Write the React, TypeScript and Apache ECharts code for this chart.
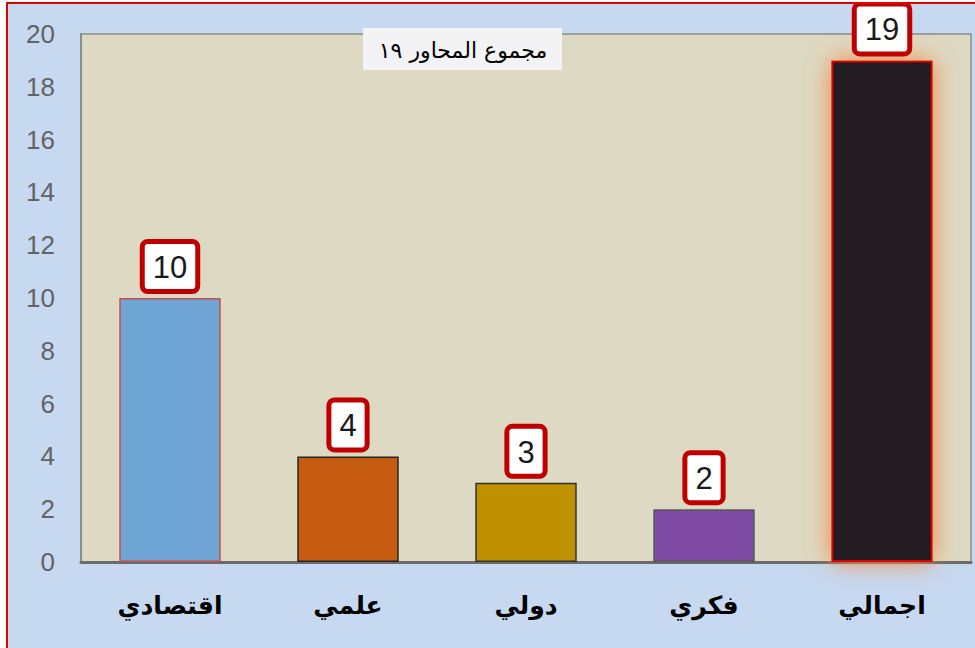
import React, { useEffect, useRef } from "react";
import * as echarts from "echarts";

const categories = ["اقتصادي", "علمي", "دولي", "فكري", "اجمالي"];
const values = [10, 4, 3, 2, 19];
const barColors = ["#6FA5D4", "#C55A11", "#BF9000", "#7F4AA3", "#231F20"];
const barBorders = ["#C0504D", "#262626", "#333333", "#595959", "#E00000"];
const titleText = "مجموع المحاور ١٩";

export default function App() {
  const ref = useRef<HTMLDivElement>(null);
  useEffect(() => {
    document.documentElement.style.overflow = "hidden";
    document.body.style.margin = "0";
    const chart = echarts.init(ref.current!, undefined, { renderer: "svg" });
    chart.setOption({
      animation: false,
      backgroundColor: "#C6D9F0",
      grid: {
        left: 73,
        top: 30,
        right: 6,
        bottom: 88,
        show: true,
        backgroundColor: "#DDD9C3",
        borderColor: "#8C8C8C",
        borderWidth: 1.5,
        containLabel: false,
      },
      xAxis: {
        type: "category",
        data: categories,
        axisLine: { show: true, lineStyle: { color: "#6B6B6B", width: 3 } },
        axisTick: { show: false },
        axisLabel: {
          color: "#000",
          fontSize: 25,
          fontWeight: "bold",
          fontFamily: "DejaVu Sans",
          margin: 31,
        },
      },
      yAxis: {
        type: "value",
        min: 0,
        max: 20,
        interval: 2,
        axisLine: { show: true, lineStyle: { color: "#8C8C8C", width: 2 } },
        axisTick: { show: false },
        splitLine: { show: false },
        axisLabel: {
          color: "#636363",
          fontSize: 26,
          fontFamily: "Liberation Sans",
          margin: 26,
        },
      },
      series: [
        {
          type: "bar",
          barWidth: "57%",
          data: values.map((v, i) => ({
            value: v,
            itemStyle: {
              color: barColors[i],
              borderColor: barBorders[i],
              borderWidth: i === 4 ? 2 : 1.5,
              shadowBlur: i === 4 ? 24 : 0,
              shadowColor: i === 4 ? "#F3853F" : "transparent",
            },
          })),
          label: {
            show: true,
            position: "top",
            distance: 9,
            color: "#1a1a1a",
            fontSize: 31,
            fontFamily: "Liberation Sans",
            backgroundColor: "#FFFFFF",
            borderColor: "#C00000",
            borderWidth: 5,
            borderRadius: 3,
            padding: [8, 8, 6, 8],
          },
        },
      ],
      graphic: [
        {
          type: "rect",
          shape: { x: 355, y: 24, width: 199, height: 42 },
          style: { fill: "#F3F3F5" },
          z: 10,
        },
        {
          type: "text",
          x: 455,
          y: 46,
          style: {
            text: titleText,
            fill: "#000",
            fontSize: 22,
            fontFamily: "DejaVu Sans",
            align: "center",
            verticalAlign: "middle",
          },
          z: 11,
        },
      ],
    });
    return () => chart.dispose();
  }, []);
  return (
    <div style={{ position: "fixed", left: 0, top: 0, width: 975, height: 648, background: "#fff" }}>
      <div
        style={{
          position: "absolute",
          left: 6,
          top: 2,
          width: 990,
          height: 670,
          border: "2px solid #E00000",
          boxSizing: "border-box",
          overflow: "hidden",
        }}
      >
        <div ref={ref} style={{ position: "absolute", left: 0, top: 0, width: 969, height: 646 }} />
      </div>
    </div>
  );
}
